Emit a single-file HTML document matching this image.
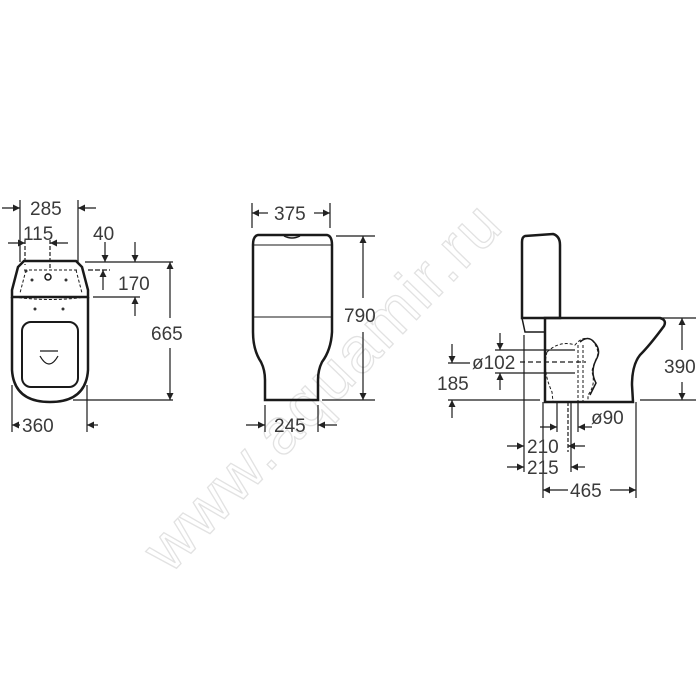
<!DOCTYPE html>
<html><head><meta charset="utf-8"><style>
html,body{margin:0;padding:0;background:#fff;}
svg{display:block;}
text{font-family:"Liberation Sans",sans-serif;font-size:19px;fill:#3a3a3a;}
</style></head><body>
<svg width="700" height="700" viewBox="0 0 700 700" xmlns="http://www.w3.org/2000/svg">
<defs>
<marker id="a" viewBox="0 0 10 10" refX="10" refY="5" markerWidth="9" markerHeight="7" orient="auto-start-reverse" markerUnits="userSpaceOnUse"><path d="M0,0 L10,5 L0,10 z" fill="#222"/></marker>
</defs>
<!-- watermark -->
<text x="0" y="0" transform="translate(170,575) rotate(-46)" style="font-size:64px;fill:none;stroke:#e2e2e2;stroke-width:1.3;letter-spacing:2px">www.aquamir.ru</text>

<g stroke="#1a1a1a" fill="none">
<!-- LEFT VIEW -->
<path d="M24,261 L76,261 L82,267 L88,290 L88,297 L12,297 L12,290 L18,267 Z" stroke-width="2.5"/>
<path d="M24,270 L78,270 M26,270 L20,293 M76,270 L82,293 M14,297 Q50,302 86,297" stroke-width="1" stroke-dasharray="3,2"/>
<path d="M12,297 L12,370 Q14,402 50,402 Q86,402 88,370 L88,297" stroke-width="2.5"/>
<rect x="22" y="322" width="56" height="65" rx="9" stroke-width="2"/>
<path d="M40,351 L58,351 M40,356 Q49,372 58,356" stroke-width="1.2"/>
<circle cx="48" cy="277" r="3" stroke-width="1.5"/>
<g fill="#333" stroke="none"><circle cx="32" cy="280" r="1.5"/><circle cx="66" cy="280" r="1.5"/><circle cx="35" cy="309" r="1.5"/><circle cx="63" cy="309" r="1.5"/><circle cx="26" cy="271" r="1.5"/></g>
<g stroke-width="1.2">
<path d="M20,200 L20,262 M78,200 L78,262"/>
<line x1="2" y1="208" x2="20" y2="208" marker-end="url(#a)"/>
<line x1="96" y1="208" x2="78" y2="208" marker-end="url(#a)"/>
<path d="M25,240 L25,265 M50,240 L50,270" stroke-dasharray="4,2"/>
<line x1="8" y1="243" x2="25" y2="243" marker-end="url(#a)"/>
<line x1="68" y1="243" x2="50" y2="243" marker-end="url(#a)"/>
<line x1="85" y1="262" x2="173" y2="262"/>
<line x1="105" y1="242" x2="105" y2="262" marker-end="url(#a)"/>
<line x1="135" y1="242" x2="135" y2="262" marker-end="url(#a)"/>
<line x1="88" y1="270" x2="110" y2="270" stroke-dasharray="5,2"/>
<line x1="103" y1="290" x2="103" y2="270" marker-end="url(#a)"/>
<line x1="93" y1="297" x2="140" y2="297"/>
<line x1="135" y1="316" x2="135" y2="297" marker-end="url(#a)"/>
<line x1="170" y1="318" x2="170" y2="262" marker-end="url(#a)"/>
<line x1="170" y1="348" x2="170" y2="400" marker-end="url(#a)"/>
<line x1="73" y1="400" x2="173" y2="400"/>
<path d="M12,385 L12,432 M87,385 L87,432"/>
<line x1="20" y1="425" x2="12" y2="425" marker-end="url(#a)"/>
<line x1="98" y1="425" x2="87" y2="425" marker-end="url(#a)"/>
</g>

<!-- MIDDLE VIEW -->
<path d="M258,235 L327,235 Q332,236 332,245 L332,332 Q331,350 322,362 Q318,370 318,380 L318,400 L265,400 L265,380 Q265,370 261,362 Q253,350 253,332 L253,245 Q253,236 258,235 Z" stroke-width="2.5"/>
<path d="M254,245 L331,245 M253,317 L332,317" stroke-width="1"/>
<path d="M284,236 Q292,240 300,236" stroke-width="1.5"/>
<g stroke-width="1.2">
<path d="M252,203 L252,228 M330,203 L330,228"/>
<line x1="268" y1="213" x2="252" y2="213" marker-end="url(#a)"/>
<line x1="314" y1="213" x2="330" y2="213" marker-end="url(#a)"/>
<line x1="336" y1="236" x2="375" y2="236"/>
<line x1="322" y1="400" x2="375" y2="400"/>
<line x1="363" y1="298" x2="363" y2="236" marker-end="url(#a)"/>
<line x1="363" y1="332" x2="363" y2="400" marker-end="url(#a)"/>
<path d="M265,405 L265,432 M318,405 L318,432"/>
<line x1="246" y1="425" x2="265" y2="425" marker-end="url(#a)"/>
<line x1="337" y1="425" x2="318" y2="425" marker-end="url(#a)"/>
</g>

<!-- RIGHT VIEW -->
<path d="M525,236 L553,234 Q560,236 560,245 L560,318 L522,318 L522,242 Q522,237 525,236 Z" stroke-width="2.5"/>
<path d="M522,318 L545,318 L545,332 L525,332 Z" stroke-width="1.5"/>
<path d="M545,318 L660,318 Q667,320 664,326 Q650,345 640,355 Q632,365 632,385 L633,402 L545,402 Z" stroke-width="2.5"/>
<path d="M547,352 Q560,340 575,345 Q583,335 592,340 Q600,350 597,357 Q592,368 592,372 Q596,385 588,395 L588,402 M547,352 Q542,370 552,392 L553,402 M578,345 L578,402 M583,345 L583,402" stroke-width="1" stroke-dasharray="3,2"/>
<path d="M580,342 Q588,335 594,342 Q602,350 596,360 Q590,372 596,383 L590,395" stroke-width="1.5"/>
<g stroke-width="1.2">
<line x1="560" y1="318" x2="696" y2="318"/>
<line x1="640" y1="400" x2="696" y2="400"/>
<line x1="682" y1="350" x2="682" y2="318" marker-end="url(#a)"/>
<line x1="682" y1="382" x2="682" y2="400" marker-end="url(#a)"/>
<line x1="495" y1="350" x2="575" y2="350"/>
<line x1="495" y1="373" x2="575" y2="373"/>
<line x1="520" y1="362" x2="586" y2="362" stroke-dasharray="5,3"/>
<line x1="500" y1="333" x2="500" y2="350" marker-end="url(#a)"/>
<line x1="500" y1="390" x2="500" y2="373" marker-end="url(#a)"/>
<line x1="448" y1="363" x2="470" y2="363"/>
<line x1="448" y1="400" x2="540" y2="400"/>
<line x1="452" y1="344" x2="452" y2="363" marker-end="url(#a)"/>
<line x1="452" y1="418" x2="452" y2="400" marker-end="url(#a)"/>
<line x1="524" y1="335" x2="524" y2="472"/>
<line x1="543" y1="402" x2="543" y2="498"/>
<line x1="557" y1="402" x2="557" y2="432"/>
<line x1="568" y1="402" x2="568" y2="452" stroke-dasharray="4,2"/>
<line x1="571" y1="402" x2="571" y2="472"/>
<line x1="578" y1="402" x2="578" y2="432"/>
<line x1="636" y1="402" x2="636" y2="498"/>
<line x1="540" y1="427" x2="557" y2="427" marker-end="url(#a)"/>
<line x1="592" y1="427" x2="578" y2="427" marker-end="url(#a)"/>
<line x1="507" y1="446" x2="524" y2="446" marker-end="url(#a)"/>
<line x1="585" y1="446" x2="568" y2="446" marker-end="url(#a)"/>
<line x1="507" y1="467" x2="524" y2="467" marker-end="url(#a)"/>
<line x1="585" y1="467" x2="571" y2="467" marker-end="url(#a)"/>
<line x1="568" y1="490" x2="543" y2="490" marker-end="url(#a)"/>
<line x1="610" y1="490" x2="636" y2="490" marker-end="url(#a)"/>
</g>
</g>

<g>
<text x="30" y="215">285</text>
<text x="23" y="240">115</text>
<text x="93" y="240">40</text>
<text x="118" y="290">170</text>
<text x="151" y="340">665</text>
<text x="22" y="432">360</text>
<text x="274" y="220">375</text>
<text x="344" y="322">790</text>
<text x="274" y="432">245</text>
<text x="472" y="369">ø102</text>
<text x="437" y="390">185</text>
<text x="664" y="373">390</text>
<text x="591" y="424">ø90</text>
<text x="527" y="453">210</text>
<text x="527" y="474">215</text>
<text x="570" y="497">465</text>
</g>
</svg>
</body></html>
